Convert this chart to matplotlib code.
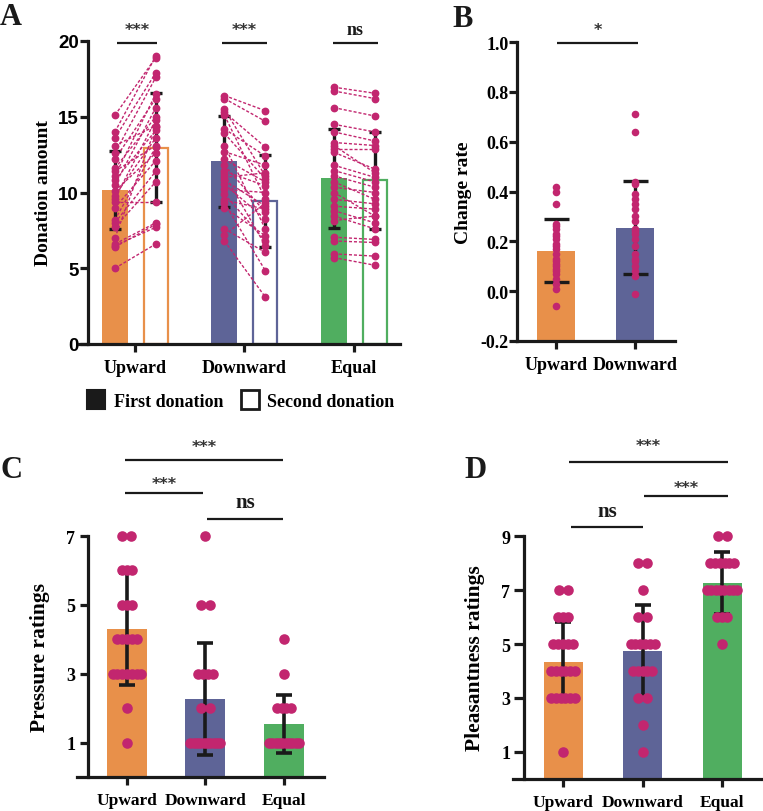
import numpy as np
import matplotlib
matplotlib.use('Agg')
import matplotlib.pyplot as plt
from matplotlib.patches import Patch

# ---------------- data ----------------
groups3 = ['Upward', 'Downward', 'Equal']
groups2 = ['Upward', 'Downward']

# Panel A: donation amounts (paired)
up_first = [15.1, 14.0, 13.6, 13.1, 12.6, 12.2, 11.6, 11.4, 11.1, 10.8, 10.5, 10.1,
            9.8, 9.6, 9.4, 9.0, 8.2, 8.0, 7.7, 7.0, 6.6, 6.5, 6.4, 5.0]
up_second = [18.9, 19.0, 17.9, 14.4, 17.6, 16.2, 15.0, 13.1, 16.5, 14.1, 15.6, 12.6,
             13.6, 14.8, 9.4, 12.1, 13.0, 11.4, 10.7, 14.3, 8.0, 7.7, 7.9, 6.6]
down_first = [16.4, 16.2, 15.5, 15.3, 15.1, 14.2, 13.9, 13.1, 12.7, 12.2, 11.8, 11.4,
              11.2, 11.0, 10.8, 10.55, 10.2, 9.9, 9.5, 9.3, 9.0, 7.6, 7.2, 6.8]
down_second = [15.4, 14.7, 11.1, 13.0, 9.6, 12.4, 10.9, 7.6, 11.8, 10.7, 8.7, 10.45,
               6.5, 11.3, 9.1, 8.25, 10.0, 6.8, 8.9, 4.85, 7.15, 6.05, 9.3, 3.1]
eq_first = [16.95, 16.7, 15.6, 14.5, 14.0, 13.3, 13.1, 12.9, 12.65, 11.8, 11.45, 11.1,
            10.7, 10.35, 10.0, 9.55, 9.1, 8.8, 8.45, 8.15, 7.05, 6.8, 5.95, 5.7]
eq_second = [16.55, 16.2, 15.05, 14.0, 13.4, 13.1, 11.3, 12.9, 11.55, 11.0, 10.7, 10.35,
             9.55, 10.0, 8.45, 9.25, 8.9, 8.0, 7.6, 8.45, 6.9, 6.7, 5.8, 5.2]
first_mean = [10.15, 12.05, 10.95]
first_sd = [2.57, 3.0, 3.27]
second_mean = [12.95, 9.45, 10.8]
second_sd = [3.6, 3.02, 3.22]
sig_A = ['***', '***', 'ns']

# Panel B: change rate
rate_up = [0.42, 0.40, 0.35, 0.27, 0.26, 0.25, 0.23, 0.22, 0.21, 0.19, 0.18, 0.17,
           0.15, 0.13, 0.12, 0.11, 0.10, 0.09, 0.08, 0.07, 0.05, 0.03, 0.01, -0.06]
rate_down = [0.71, 0.64, 0.44, 0.43, 0.39, 0.37, 0.35, 0.33, 0.30, 0.28, 0.25, 0.24,
             0.23, 0.21, 0.18, 0.15, 0.13, 0.12, 0.10, 0.08, 0.06, -0.01]
rate_mean = [0.163, 0.255]
rate_sd = [0.128, 0.188]

# Panel C: pressure ratings
press_up = [7, 7, 6, 6, 6, 5, 5, 5, 4, 4, 4, 4, 4, 3, 3, 3, 3, 3, 3, 3, 2, 1]
press_down = [7, 5, 5, 3, 3, 3, 3, 2, 2, 1, 1, 1, 1, 1, 1, 1, 1, 1, 1]
press_eq = [4, 3, 2, 2, 2, 2, 1, 1, 1, 1, 1, 1, 1, 1, 1, 1]
press_mean = [4.3, 2.27, 1.53]
press_sd = [1.62, 1.62, 0.84]

# Panel D: pleasantness ratings
pleas_up = [7, 7, 6, 6, 6, 5, 5, 5, 5, 5, 4, 4, 4, 4, 4, 4, 3, 3, 3, 3, 3, 3, 1]
pleas_down = [8, 8, 7, 6, 6, 5, 5, 5, 5, 5, 5, 4, 4, 4, 4, 4, 3, 3, 2, 1]
pleas_eq = [9, 9, 8, 8, 8, 8, 8, 8, 7, 7, 7, 7, 7, 7, 7, 7, 6, 6, 6, 5]
pleas_mean = [4.35, 4.75, 7.25]
pleas_sd = [1.45, 1.7, 1.15]

# ---------------- style ----------------
W, H = 763, 812
fig = plt.figure(figsize=(W / 100, H / 100), dpi=100)
SERIF = 'Liberation Serif'
SANS = 'Liberation Sans'
STAR = 'DejaVu Sans'
ORANGE = '#E8904A'
BLUE = '#5E6497'
GREEN = '#50AE60'
PINK = '#C2266F'
BLACK = '#1a1a1a'
COLORS = [ORANGE, BLUE, GREEN]


def axes_px(l, t, r, b):
    return fig.add_axes([l / W, 1 - b / H, (r - l) / W, (b - t) / H])


def dy(ax, py):
    return ax.transData.inverted().transform((0, H - py))[1]


def dx(ax, px):
    return ax.transData.inverted().transform((px, 0))[0]


def style_axes(ax, left_frac, ysize, yfont, ypad, ylen, xsize=13):
    for s in ['top', 'right']:
        ax.spines[s].set_visible(False)
    for s in ['left', 'bottom']:
        ax.spines[s].set_linewidth(2.3)
        ax.spines[s].set_color(BLACK)
    ax.spines['left'].set_position(('axes', left_frac))
    ax.tick_params(axis='y', length=ylen, width=2.3, pad=ypad, color=BLACK)
    ax.tick_params(axis='x', length=5.5, width=2.3, pad=5, color=BLACK)
    for lab in ax.get_yticklabels():
        lab.set_fontfamily(yfont)
        lab.set_fontweight('bold')
        lab.set_fontsize(ysize)
    for lab in ax.get_xticklabels():
        lab.set_fontfamily(SERIF)
        lab.set_fontweight('bold')
        lab.set_fontsize(xsize)


def sig(ax, x0px, x1px, ypx, text, typx, fs, star=True):
    x0, x1 = dx(ax, x0px), dx(ax, x1px)
    y = dy(ax, ypx)
    ax.plot([x0, x1], [y, y], color=BLACK, lw=1.6, clip_on=False, solid_capstyle='butt')
    if star:
        ax.text((x0 + x1) / 2, dy(ax, typx), text, ha='center', va='center',
                fontsize=fs, fontfamily=STAR, fontweight='bold', color='#333333',
                clip_on=False)
    else:
        ax.text((x0 + x1) / 2, dy(ax, typx), text, ha='center', va='baseline',
                fontsize=fs, fontfamily=SERIF, fontweight='bold', color=BLACK, clip_on=False)


def swarm_x(vals, center, px_per_unit, cap=30.0):
    vals = np.asarray(vals, dtype=float)
    xs = np.zeros_like(vals)
    for v in np.unique(vals):
        idx = np.where(vals == v)[0]
        n = len(idx)
        if n == 1:
            xs[idx] = center
            continue
        span = 9.0 if n == 2 else min(cap, 4.8 * (n - 1))
        xs[idx] = center + np.linspace(-span / 2, span / 2, n) / px_per_unit
    return xs


# ================= Panel A =================
axA = axes_px(79, 42, 400, 345)
axA.set_xlim(-0.511, 2.42)
axA.set_ylim(0, 20)
axA.set_yticks([0, 5, 10, 15, 20])
axA.set_xticks(range(3))
axA.set_xticklabels(groups3)
off1, off2, bw = -0.183, 0.19, 0.237
pairs = [(up_first, up_second), (down_first, down_second), (eq_first, eq_second)]
for i in range(3):
    c = COLORS[i]
    axA.bar(i + off1, first_mean[i], width=bw, color=c, edgecolor=c, lw=0, zorder=1)
    axA.bar(i + off2, second_mean[i], width=bw - 0.015, facecolor='white', edgecolor=c,
            lw=1.6, zorder=1)
    axA.errorbar([i + off1, i + off2], [first_mean[i], second_mean[i]],
                 yerr=[first_sd[i], second_sd[i]], fmt='none', ecolor=BLACK,
                 elinewidth=2.4, capsize=4.5, capthick=2.4, zorder=2)
    f, s = pairs[i]
    for a, b in zip(f, s):
        axA.plot([i + off1, i + off2], [a, b], ls=(0, (2.2, 1.4)), color=PINK, lw=1.0,
                 marker='o', ms=4.6, mfc=PINK, mec=PINK, zorder=3)
style_axes(axA, 0.028, 13.5, SANS, 1.0, 5.5)
axA.set_ylabel('Donation amount', fontfamily=SERIF, fontweight='bold', fontsize=14)
axA.yaxis.set_label_coords(-0.083, 0.5)
centers_px = [(117, 157), (222, 267), (333, 378)]
for i in range(3):
    x0, x1 = centers_px[i]
    if sig_A[i] == 'ns':
        sig(axA, x0, x1, 44, 'ns', 35, 13, star=False)
    else:
        sig(axA, x0, x1, 44, sig_A[i], 31, 11.5)

fig.legend(handles=[Patch(facecolor=BLACK, edgecolor=BLACK, lw=1.5),
                    Patch(facecolor='white', edgecolor=BLACK, lw=2.0)],
           labels=['First donation', 'Second donation'], loc='center',
           bbox_to_anchor=(241 / W, 1 - 401 / H), ncol=2, frameon=False,
           handlelength=1.0, handleheight=1.2, columnspacing=1.0, handletextpad=0.45,
           prop={'family': SERIF, 'weight': 'bold', 'size': 13})

# ================= Panel B =================
axB = axes_px(517, 43, 675, 342)
axB.set_xlim(-0.494, 1.506)
axB.set_ylim(-0.2, 1.0)
axB.set_yticks([-0.2, 0.0, 0.2, 0.4, 0.6, 0.8, 1.0])
axB.set_yticklabels(['-0.2', '0.0', '0.2', '0.4', '0.6', '0.8', '1.0'])
axB.set_xticks(range(2))
axB.set_xticklabels(groups2)
rates = [rate_up, rate_down]
base = -0.2
for i in range(2):
    axB.bar(i, rate_mean[i] - base, bottom=base, width=0.49, color=COLORS[i], lw=0,
            zorder=1)
    axB.errorbar(i, rate_mean[i], yerr=rate_sd[i], fmt='none', ecolor=BLACK,
                 elinewidth=2.4, capsize=9, capthick=2.4, zorder=2)
    axB.scatter(np.full(len(rates[i]), i), rates[i], s=30, color=PINK, lw=0, zorder=3)
style_axes(axB, 0.0, 13, SERIF, 0.5, 5.5)
axB.set_ylabel('Change rate', fontfamily=SERIF, fontweight='bold', fontsize=14)
axB.yaxis.set_label_coords(-0.285, 0.5)
sig(axB, 557, 638, 44, '*', 31, 11.5)

# ================= Panel C =================
axC = axes_px(77, 537, 324, 778)
axC.set_xlim(-0.637, 2.51)
axC.set_ylim(0, 7)
axC.set_yticks([1, 3, 5, 7])
axC.set_xticks(range(3))
axC.set_xticklabels(groups3)
press = [press_up, press_down, press_eq]
for i in range(3):
    axC.bar(i, press_mean[i], width=0.51, color=COLORS[i], lw=0, zorder=1)
    axC.errorbar(i, press_mean[i], yerr=press_sd[i], fmt='none', ecolor=BLACK,
                 elinewidth=2.6, capsize=5.5, capthick=2.6, zorder=2)
    axC.scatter(swarm_x(press[i], i, 78.5), press[i], s=58, color=PINK, lw=0, zorder=3,
                clip_on=False)
style_axes(axC, 0.0445, 13, SERIF, 3.5, 5.5, xsize=12.5)
axC.set_ylabel('Pressure ratings', fontfamily=SERIF, fontweight='bold', fontsize=15.5)
axC.yaxis.set_label_coords(-0.109, 0.5)
sig(axC, 125, 283, 461, '***', 448, 11.5)
sig(axC, 125, 203, 494, '***', 485, 11.5)
sig(axC, 207, 283, 520, 'ns', 508, 15, star=False)

# ================= Panel D =================
axD = axes_px(513, 537, 762, 780)
axD.set_xlim(-0.629, 2.5)
axD.set_ylim(0, 9)
axD.set_yticks([1, 3, 5, 7, 9])
axD.set_xticks(range(3))
axD.set_xticklabels(groups3)
pleas = [pleas_up, pleas_down, pleas_eq]
for i in range(3):
    axD.bar(i, pleas_mean[i], width=0.49, color=COLORS[i], lw=0, zorder=1)
    axD.errorbar(i, pleas_mean[i], yerr=pleas_sd[i], fmt='none', ecolor=BLACK,
                 elinewidth=2.6, capsize=5.5, capthick=2.6, zorder=2)
    axD.scatter(swarm_x(pleas[i], i, 79.5), pleas[i], s=58, color=PINK, lw=0, zorder=3,
                clip_on=False)
style_axes(axD, 0.044, 13, SERIF, 2.5, 7.5, xsize=12.5)
axD.set_ylabel('Pleasantness ratings', fontfamily=SERIF, fontweight='bold', fontsize=15.5)
axD.yaxis.set_label_coords(-0.112, 0.5)
sig(axD, 569, 728, 463, '***', 447, 11.5)
sig(axD, 644, 728, 497, '***', 489, 11.5)
sig(axD, 571, 643, 528, 'ns', 517, 15, star=False)

# panel letters
for lab, x, y in [('A', 0, 3), ('B', 452, 5), ('C', 0, 456), ('D', 464, 456)]:
    fig.text(x / W, 1 - y / H, lab, ha='left', va='top', fontsize=22,
             fontfamily=SERIF, fontweight='bold', color=BLACK)

fig.savefig('out.png', dpi=100)
